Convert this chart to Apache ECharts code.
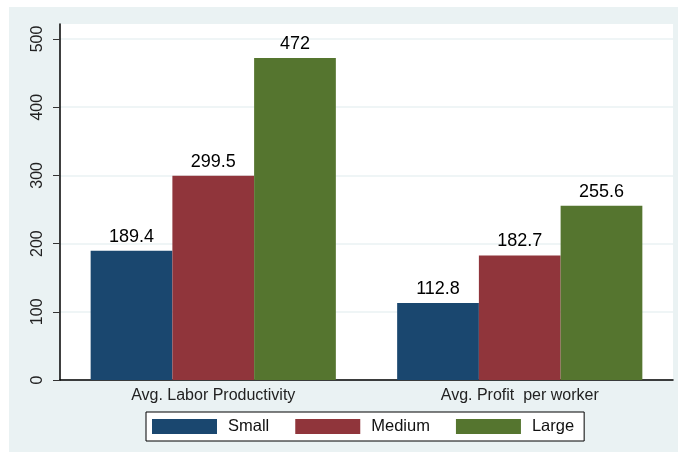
<!DOCTYPE html>
<html>
<head>
<meta charset="utf-8">
<script src="https://cdn.jsdelivr.net/npm/echarts@6/dist/echarts.min.js"></script>
<style>
  html, body { margin: 0; padding: 0; background: #fff; }
  #chart { width: 678px; height: 455px; }
</style>
</head>
<body>
<div id="chart"></div>
<script>
const categories = ['Avg. Labor Productivity', 'Avg. Profit  per worker']
const small = [189.4, 112.8]
const medium = [299.5, 182.7]
const large = [472, 255.6]
const yTicks = [0, 100, 200, 300, 400, 500]

const chart = echarts.init(document.getElementById('chart'))
const font = 'Liberation Sans, Arial, sans-serif'

function barSeries(name, data, color) {
  return {
    name: name,
    type: 'bar',
    data: data,
    barGap: 0,
    barCategoryGap: '20%',
    itemStyle: { color: color },
    label: {
      show: true,
      position: 'top',
      distance: 5,
      color: '#000',
      fontSize: 18,
      fontFamily: font
    }
  }
}

chart.setOption({
  backgroundColor: '#fff',
  animation: false,
  graphic: [
    {
      type: 'rect',
      z: -10,
      silent: true,
      shape: { x: 9, y: 7, width: 669, height: 445 },
      style: { fill: '#eaf2f3' }
    }
  ],
  grid: {
    left: 60,
    right: 5,
    top: 24,
    bottom: 75,
    show: true,
    backgroundColor: '#fff',
    borderWidth: 0
  },
  legend: {
    left: 146,
    top: 412,
    itemWidth: 65,
    itemHeight: 15,
    itemGap: 26,
    padding: [6, 10, 6, 6],
    borderColor: '#000',
    borderWidth: 1,
    backgroundColor: '#fff',
    icon: 'rect',
    textStyle: {
      fontSize: 16.5,
      color: '#111',
      fontFamily: font,
      padding: [0, 0, 0, 6]
    },
    data: ['Small', 'Medium', 'Large']
  },
  xAxis: {
    type: 'category',
    data: categories,
    axisLine: { lineStyle: { color: '#000', width: 1.5 } },
    axisTick: { show: false },
    axisLabel: {
      color: '#222',
      fontSize: 16,
      margin: 8,
      fontFamily: font
    }
  },
  yAxis: {
    type: 'value',
    min: 0,
    max: 522,
    axisLine: { show: true, lineStyle: { color: '#000', width: 1.5 } },
    axisTick: {
      show: true,
      length: 7,
      customValues: yTicks,
      lineStyle: { color: '#333' }
    },
    axisLabel: {
      customValues: yTicks,
      rotate: 90,
      margin: 14,
      color: '#222',
      fontSize: 16,
      fontFamily: font
    },
    splitLine: {
      show: true,
      lineStyle: { color: '#eaf2f3', width: 1.5 }
    }
  },
  series: [
    barSeries('Small', small, '#1a476f'),
    barSeries('Medium', medium, '#90353b'),
    barSeries('Large', large, '#55752f')
  ]
})
</script>
</body>
</html>
